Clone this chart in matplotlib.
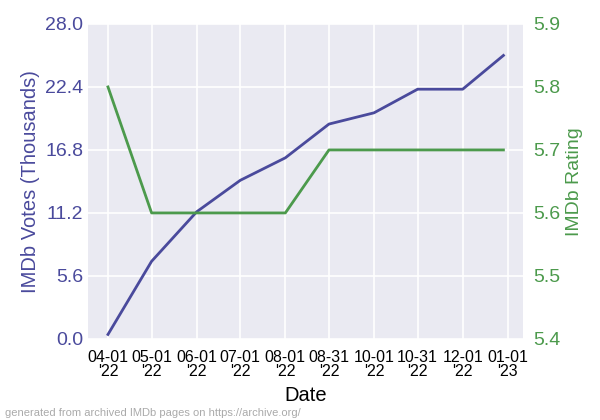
import numpy as np
import pandas as pd
import matplotlib
matplotlib.use("Agg")
import matplotlib.pyplot as plt

dates = pd.to_datetime(["2022-04-01", "2022-05-01", "2022-06-01", "2022-07-01", "2022-08-01",
                        "2022-08-31", "2022-10-01", "2022-10-31", "2022-12-01", "2022-12-29"])
votes = [0.4, 6.9, 11.3, 14.1, 16.1, 19.1, 20.1, 22.2, 22.2, 25.2]
rating = [5.8, 5.6, 5.6, 5.6, 5.6, 5.7, 5.7, 5.7, 5.7, 5.7]
tick_dates = pd.to_datetime(["2022-04-01", "2022-05-01", "2022-06-01", "2022-07-01", "2022-08-01",
                             "2022-08-31", "2022-10-01", "2022-10-31", "2022-12-01", "2023-01-01"])
tick_labels = [d.strftime("%m-%d\n'%y") for d in tick_dates]

blue = "#4a4a9c"
green = "#4c9a4c"

plt.rcParams['font.family'] = ['Liberation Sans', 'DejaVu Sans']

fig, ax = plt.subplots(figsize=(6, 4.2), dpi=100)
ax.set_facecolor("#eaeaf2")
for s in ax.spines.values():
    s.set_visible(False)
ax.grid(True, color="white", linewidth=1.2)
ax.set_axisbelow(True)

ax.plot(dates, votes, color=blue, linewidth=2)
ax.set_ylim(0, 28)
ax.set_yticks(np.linspace(0, 28, 6))
ax.set_yticklabels(["%.1f" % v for v in np.linspace(0, 28, 6)])
ax.set_ylabel("IMDb Votes (Thousands)", color=blue, fontsize=14.5)
ax.tick_params(axis="y", colors=blue, labelsize=14, length=0)
ax.set_xticks(tick_dates)
ax.set_xticklabels(tick_labels, fontsize=11.5, linespacing=0.9)
ax.tick_params(axis="x", length=0, pad=8)
ax.set_xlabel("Date", fontsize=14.5, labelpad=5)

ax2 = ax.twinx()
ax2.plot(dates, rating, color=green, linewidth=2)
ax2.set_ylim(5.4, 5.9)
ax2.set_yticks(np.linspace(5.4, 5.9, 6))
ax2.set_yticklabels(["%.1f" % v for v in np.linspace(5.4, 5.9, 6)])
ax2.set_ylabel("IMDb Rating", color=green, fontsize=14)
ax2.tick_params(axis="y", colors=green, labelsize=14, length=0, pad=7)
ax2.grid(False)
for s in ax2.spines.values():
    s.set_visible(False)

fig.subplots_adjust(left=0.147, right=0.872, top=0.943, bottom=0.193)
fig.text(0.008, 0.01, "generated from archived IMDb pages on https://archive.org/",
         color="#aaaaaa", fontsize=8)
fig.savefig("out.png", dpi=100)
